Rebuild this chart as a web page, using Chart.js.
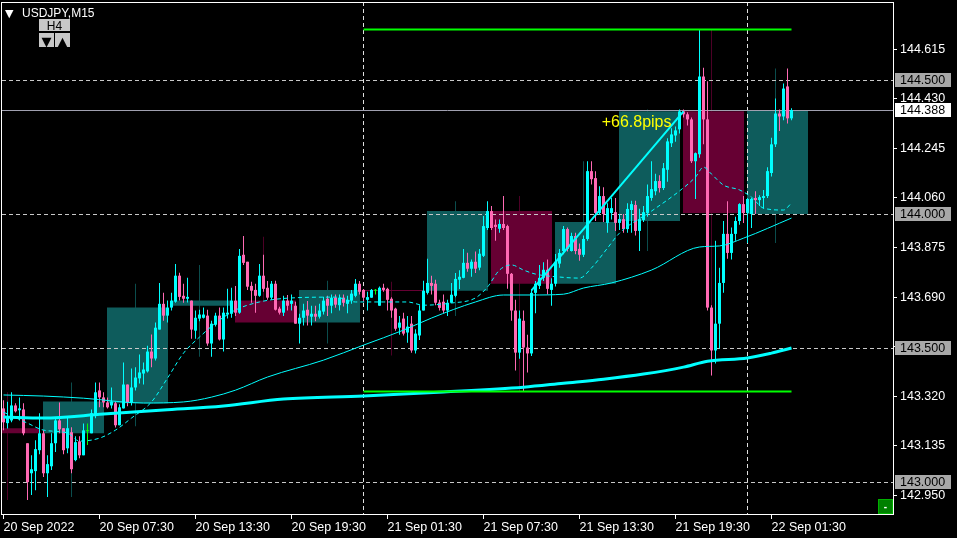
<!DOCTYPE html>
<html>
<head>
<meta charset="utf-8">
<script src="https://cdn.jsdelivr.net/npm/chart.js@4.4.1/dist/chart.umd.min.js"></script>
<style>
  html, body { margin: 0; padding: 0; background: #000; }
  #grafico { display: block; }
</style>
</head>
<body>
<canvas id="grafico" width="957" height="538"></canvas>
<script>
// Velas M15 (índice 0 = 20 Sep 01:30)
const abertura = [
  143.275,143.220,143.230,143.286,143.268,143.271,143.145,143.033,143.041,143.119,
  143.182,143.033,143.059,143.145,143.230,143.201,143.126,143.186,143.082,143.152,
  143.100,143.190,143.182,143.249,143.342,143.316,143.297,143.286,143.294,143.212,
  143.275,143.364,143.297,143.353,143.387,143.405,143.413,143.487,143.461,143.569,
  143.665,143.621,143.651,143.673,143.770,143.695,143.684,143.677,143.565,143.610,
  143.613,143.621,143.517,143.587,143.621,143.532,143.625,143.628,143.677,143.632,
  143.848,143.822,143.732,143.717,143.695,143.770,143.725,143.688,143.740,143.647,
  143.632,143.677,143.665,143.658,143.591,143.613,143.643,143.617,143.628,143.617,
  143.636,143.684,143.658,143.688,143.660,143.688,143.665,143.677,143.695,143.740,
  143.717,143.680,143.688,143.714,143.658,143.725,143.721,143.684,143.647,143.576,
  143.610,143.558,143.591,143.491,143.547,143.640,143.706,143.743,143.740,143.670,
  143.673,143.640,143.669,143.695,143.755,143.762,143.818,143.796,143.822,143.800,
  143.844,143.948,144.011,143.960,143.945,143.963,143.955,143.777,143.640,143.483,
  143.602,143.502,143.480,143.706,143.732,143.762,143.792,143.717,143.740,143.815,
  143.862,143.944,143.862,143.918,143.870,143.848,143.907,144.160,144.134,144.004,
  144.067,143.967,144.004,144.007,143.967,143.981,143.944,144.015,144.034,143.937,
  143.978,144.004,144.060,144.085,144.123,144.097,144.165,144.264,144.293,144.316,
  144.383,144.372,144.353,144.197,144.223,144.513,144.353,143.651,143.491,143.591,
  143.743,143.926,143.855,143.926,143.974,144.037,144.004,144.000,144.060,144.052,
  144.060,144.067,144.153,144.260,144.375,144.364,144.476,144.357
];
const maxima = [
  143.305,143.300,143.335,143.294,143.316,143.294,143.145,143.100,143.156,143.257,
  143.193,143.100,143.182,143.238,143.297,143.201,143.245,143.205,143.171,143.171,
  143.219,143.219,143.271,143.372,143.372,143.335,143.316,143.353,143.301,143.290,
  143.446,143.364,143.424,143.428,143.476,143.446,143.509,143.551,143.595,143.743,
  143.706,143.677,143.706,143.814,143.781,143.740,143.762,143.677,143.640,143.643,
  143.651,143.643,143.602,143.632,143.651,143.651,143.721,143.725,143.732,143.870,
  143.918,143.822,143.747,143.740,143.814,143.848,143.750,143.750,143.751,143.654,
  143.695,143.698,143.700,143.673,143.628,143.665,143.676,143.658,143.658,143.665,
  143.691,143.695,143.700,143.700,143.700,143.700,143.695,143.717,143.758,143.750,
  143.720,143.710,143.720,143.720,143.730,143.740,143.725,143.690,143.650,143.620,
  143.632,143.620,143.620,143.570,143.660,143.751,143.833,143.770,143.755,143.680,
  143.700,143.680,143.743,143.780,143.790,143.870,143.856,143.830,143.860,143.870,
  143.993,144.048,144.030,143.980,143.980,144.067,143.960,143.780,143.680,143.640,
  143.640,143.550,143.720,143.750,143.810,143.820,143.830,143.760,143.851,143.870,
  143.955,143.950,143.930,143.930,143.890,143.920,144.197,144.197,144.160,144.104,
  144.100,144.040,144.060,144.060,144.000,144.000,144.040,144.050,144.050,144.020,
  144.030,144.110,144.197,144.150,144.145,144.190,144.283,144.320,144.327,144.390,
  144.390,144.380,144.360,144.230,144.688,144.546,144.495,143.660,143.900,143.800,
  143.974,144.048,143.950,143.990,144.040,144.067,144.060,144.060,144.085,144.070,
  144.090,144.175,144.285,144.431,144.390,144.487,144.543,144.395
];
const minima = [
  143.193,143.200,143.223,143.260,143.230,143.175,142.933,142.952,142.970,143.104,
  143.019,142.944,143.045,143.112,143.182,143.104,143.108,143.033,143.078,143.089,
  143.100,143.138,143.182,143.238,143.279,143.279,143.275,143.275,143.204,143.212,
  143.275,143.283,143.286,143.342,143.368,143.364,143.409,143.428,143.454,143.569,
  143.602,143.595,143.640,143.669,143.677,143.669,143.670,143.535,143.535,143.600,
  143.610,143.509,143.468,143.580,143.528,143.487,143.610,143.613,143.620,143.628,
  143.810,143.717,143.669,143.632,143.691,143.710,143.680,143.680,143.640,143.625,
  143.620,143.640,143.640,143.591,143.517,143.584,143.584,143.584,143.600,143.610,
  143.625,143.620,143.630,143.650,143.640,143.655,143.630,143.665,143.690,143.700,
  143.673,143.640,143.688,143.700,143.658,143.710,143.640,143.613,143.565,143.550,
  143.547,143.520,143.483,143.480,143.530,143.640,143.700,143.700,143.660,143.640,
  143.630,143.620,143.669,143.690,143.720,143.760,143.785,143.766,143.780,143.790,
  143.840,143.940,143.940,143.900,143.930,143.940,143.721,143.602,143.416,143.460,
  143.340,143.409,143.470,143.630,143.720,143.750,143.700,143.658,143.730,143.800,
  143.850,143.860,143.860,143.850,143.826,143.840,143.900,144.110,143.974,143.996,
  143.970,143.930,143.980,143.937,143.940,143.930,143.930,143.930,143.920,143.862,
  143.970,143.990,144.050,144.070,144.080,144.090,144.120,144.250,144.270,144.300,
  144.360,144.330,144.190,144.056,144.210,144.260,143.640,143.398,143.442,143.498,
  143.706,143.833,143.830,143.900,143.960,143.967,143.892,143.948,144.000,144.030,
  144.020,144.060,144.140,144.250,144.310,144.350,144.338,144.350
];
const fechamento = [
  143.223,143.240,143.286,143.264,143.275,143.182,143.000,143.048,143.123,143.182,
  143.033,143.067,143.145,143.230,143.197,143.119,143.201,143.048,143.149,143.100,
  143.193,143.190,143.257,143.335,143.316,143.297,143.279,143.301,143.212,143.279,
  143.364,143.297,143.353,143.390,143.409,143.420,143.487,143.461,143.576,143.665,
  143.621,143.651,143.677,143.770,143.691,143.684,143.691,143.569,143.613,143.625,
  143.625,143.517,143.591,143.621,143.532,143.632,143.632,143.677,143.632,143.844,
  143.818,143.729,143.714,143.695,143.770,143.721,143.688,143.740,143.643,143.632,
  143.677,143.658,143.677,143.591,143.613,143.640,143.621,143.628,143.617,143.640,
  143.677,143.658,143.688,143.662,143.688,143.669,143.680,143.703,143.740,143.710,
  143.688,143.690,143.717,143.714,143.725,143.717,143.680,143.640,143.572,143.595,
  143.554,143.580,143.491,143.554,143.640,143.714,143.743,143.732,143.669,143.650,
  143.640,143.669,143.699,143.758,143.766,143.818,143.796,143.822,143.796,143.852,
  143.955,144.011,143.948,143.952,143.963,143.948,143.777,143.640,143.483,143.610,
  143.502,143.480,143.706,143.740,143.762,143.792,143.721,143.740,143.822,143.855,
  143.944,143.870,143.918,143.862,143.848,143.907,144.160,144.130,144.004,144.067,
  144.000,144.022,144.022,143.967,143.981,143.944,144.019,144.037,143.937,143.981,
  144.007,144.067,144.093,144.123,144.097,144.171,144.271,144.297,144.312,144.383,
  144.372,144.353,144.197,144.227,144.513,144.353,143.651,143.491,143.591,143.743,
  143.926,143.855,143.926,143.974,144.037,144.004,144.056,144.056,144.052,144.063,
  144.067,144.160,144.260,144.375,144.364,144.468,144.357,144.388
];

// Velas H4 sobrepostas (índice M15 da primeira vela de cada H4)
const h4Inicio = [-6, 10, 26, 42, 58, 74, 90, 106, 122, 138, 154, 170, 186];
const h4Abertura = [143.201,143.182,143.294,143.658,143.677,143.595,143.717,143.714,144.011,143.740,143.974,144.383,144.000];
const h4Fechamento = [143.182,143.301,143.651,143.677,143.595,143.717,143.713,144.011,143.740,143.970,144.383,144.004,144.388];
const h4Maxima = [143.335,143.372,143.740,143.810,143.915,143.751,143.747,144.048,144.067,144.197,144.390,144.688,144.543];
const h4Minima = [142.933,142.944,143.208,143.468,143.620,143.517,143.472,143.620,143.340,143.760,143.862,143.398,143.892];

// Médias móveis
const maLentaIdx = [0, 10, 25, 40, 55, 70, 90, 110, 130, 140, 150, 160, 170, 176, 186, 192, 197];
const maLentaVal = [143.243,143.239,143.254,143.269,143.284,143.310,143.321,143.336,143.354,143.369,143.384,143.403,143.429,143.451,143.463,143.481,143.500];
const maMediaIdx = [0, 10, 20, 35, 45, 52, 58, 66, 80, 90, 100, 107, 118, 125, 132, 140, 145, 152, 162, 174, 179, 185, 197];
const maMediaVal = [143.325,143.321,143.313,143.295,143.299,143.317,143.343,143.392,143.455,143.511,143.567,143.612,143.672,143.698,143.698,143.701,143.724,143.743,143.791,143.877,143.881,143.910,143.985];
const maRapidaIdx = [0, 6, 10, 16, 19, 24, 28, 32, 37, 41, 45, 49, 53, 58, 64, 72, 83, 88, 95, 101, 105, 112, 118, 121, 124, 127, 130, 133, 139, 144, 147, 151, 154, 162, 169, 173, 175, 177, 180, 184, 187, 190, 195, 197];
const maRapidaVal = [143.261,143.220,143.194,143.183,143.153,143.164,143.194,143.239,143.299,143.388,143.481,143.541,143.593,143.642,143.672,143.687,143.690,143.672,143.672,143.672,143.660,143.668,143.687,143.728,143.791,143.810,143.791,143.776,143.765,143.761,143.799,143.873,143.929,144.011,144.086,144.138,144.175,144.149,144.108,144.090,144.063,144.022,144.015,144.041];

// Objetos desenhados no gráfico
const niveis = [143.0, 143.5, 144.0, 144.5];
const precoBid = 144.388;
const separadores = [90, 186];
const maximaDia = 144.688;
const minimaDia = 143.338;
const faixaDia = [90, 197];
const tendenciaIdx = [132, 170];
const tendenciaVal = [143.715, 144.383];
const textoPips = '+66.8pips';

// Eixos
const xTicksIdx = [0, 24, 48, 72, 96, 120, 144, 168, 192];
const xTicksRotulos = ['20 Sep 2022', '20 Sep 07:30', '20 Sep 13:30', '20 Sep 19:30', '21 Sep 01:30', '21 Sep 07:30', '21 Sep 13:30', '21 Sep 19:30', '22 Sep 01:30'];
const yTicksVal = [142.950, 143.135, 143.320, 143.505, 143.690, 143.875, 144.060, 144.245, 144.430, 144.615];

const CIANO = '#00ffff';
const ROSA = '#ff69b4';
const VERDE = '#00ff00';
const FONTE = 'Liberation Sans';

const indices = abertura.map((_, i) => i);

function corVela(i) {
  if (fechamento[i] > abertura[i]) return CIANO;
  if (fechamento[i] < abertura[i]) return ROSA;
  return VERDE;
}

Chart.defaults.font.family = FONTE;
Chart.defaults.color = '#ffffff';

// Plugin para linhas de nível, rótulos e enfeites do terminal
const enfeites = {
  id: 'enfeites',
  afterDatasetDraw(chart, args) {
    if (chart.data.datasets[args.index].label !== 'H4 corpo') return;
    const { ctx, chartArea: a, scales: { x, y } } = chart;
    ctx.save();
    ctx.beginPath();
    ctx.rect(a.left, a.top, a.right - a.left, a.bottom - a.top);
    ctx.clip();
    ctx.lineWidth = 1;

    // linhas horizontais pontilhadas
    ctx.strokeStyle = '#c8c8c8';
    ctx.setLineDash([4, 3]);
    niveis.forEach(v => {
      const py = Math.round(y.getPixelForValue(v)) + 0.5;
      ctx.beginPath();
      ctx.moveTo(a.left, py);
      ctx.lineTo(a.right, py);
      ctx.stroke();
    });

    // separadores de dia
    ctx.strokeStyle = '#e0e0e0';
    separadores.forEach(i => {
      const px = Math.floor(x.getPixelForValue(i)) + 0.5;
      ctx.beginPath();
      ctx.moveTo(px, a.top);
      ctx.lineTo(px, a.bottom);
      ctx.stroke();
    });

    // linha do bid
    ctx.setLineDash([]);
    ctx.strokeStyle = '#a0a0b0';
    const pb = Math.round(y.getPixelForValue(precoBid)) + 0.5;
    ctx.beginPath();
    ctx.moveTo(a.left, pb);
    ctx.lineTo(a.right, pb);
    ctx.stroke();
    ctx.restore();
  },
  afterDraw(chart) {
    const { ctx, chartArea: a, scales: { x, y } } = chart;
    ctx.save();

    // moldura
    ctx.strokeStyle = '#ffffff';
    ctx.lineWidth = 1;
    ctx.strokeRect(1.5, 2.5, a.right - 1, a.bottom - 2);

    // caixas de preço no eixo
    const caixa = (v, fundo) => {
      const py = Math.round(y.getPixelForValue(v));
      ctx.fillStyle = fundo;
      ctx.fillRect(a.right + 2, py - 7, 56, 14);
      ctx.fillStyle = '#000000';
      ctx.font = '12.5px ' + FONTE;
      ctx.textAlign = 'left';
      ctx.textBaseline = 'middle';
      ctx.fillText(v.toFixed(3), a.right + 7, py + 0.5);
    };
    niveis.forEach(v => caixa(v, '#a8a8a8'));
    caixa(precoBid, '#ffffff');

    // texto da linha de tendência
    ctx.fillStyle = '#ffff00';
    ctx.font = '16px ' + FONTE;
    ctx.textAlign = 'right';
    ctx.textBaseline = 'alphabetic';
    ctx.fillText(textoPips, x.getPixelForValue(tendenciaIdx[1]) - 12, y.getPixelForValue(tendenciaVal[1]) + 16);

    // título no canto
    ctx.fillStyle = '#ffffff';
    ctx.font = '11px DejaVu Sans';
    ctx.textAlign = 'left';
    ctx.fillText('▼', 5, 17);
    ctx.font = '12px ' + FONTE;
    ctx.fillText('USDJPY,M15', 22, 17);

    // botões H4
    ctx.fillStyle = '#c8c8c8';
    ctx.fillRect(39, 19, 31, 12);
    ctx.fillRect(39, 33, 15, 14);
    ctx.fillRect(55, 33, 15, 14);
    ctx.fillStyle = '#000000';
    ctx.font = '12px ' + FONTE;
    ctx.textAlign = 'center';
    ctx.fillText('H4', 54.5, 29.5);
    ctx.font = '13px DejaVu Sans';
    ctx.fillText('▼', 46.5, 45.5);
    ctx.fillText('▲', 62.5, 45.5);

    // botão verde no canto inferior
    ctx.fillStyle = '#008000';
    ctx.fillRect(878, 499, 15, 15);
    ctx.strokeStyle = '#00b000';
    ctx.strokeRect(878.5, 499.5, 14, 14);
    ctx.fillStyle = '#ffffff';
    ctx.font = 'bold 10px ' + FONTE;
    ctx.fillText('-', 885.5, 510);
    ctx.restore();
  }
};

const ctx = document.getElementById('grafico').getContext('2d');
new Chart(ctx, {
  type: 'bar',
  data: {
    datasets: [
      {
        label: 'H4 pavio',
        data: h4Inicio.map((s, k) => ({ x: s + 7, y: [h4Minima[k], h4Maxima[k]] })),
        backgroundColor: h4Inicio.map((_, k) => h4Fechamento[k] >= h4Abertura[k] ? '#0b4d4d' : '#4d0026'),
        barThickness: 1, grouped: false, inflateAmount: 0, order: 21
      },
      {
        label: 'H4 corpo',
        data: h4Inicio.map((s, k) => ({ x: s + 7.5, y: [h4Abertura[k], h4Fechamento[k]] })),
        backgroundColor: h4Inicio.map((_, k) => h4Fechamento[k] >= h4Abertura[k] ? '#0e5c5c' : '#660033'),
        barThickness: 61, minBarLength: 1, grouped: false, inflateAmount: 0, order: 20
      },
      {
        label: 'pavio',
        data: indices.map(i => ({ x: i, y: [minima[i], maxima[i]] })),
        backgroundColor: indices.map(corVela),
        barThickness: 1, grouped: false, inflateAmount: 0, order: 10
      },
      {
        label: 'corpo',
        data: indices.map(i => ({ x: i, y: [abertura[i], fechamento[i]] })),
        backgroundColor: indices.map(corVela),
        barThickness: 3, minBarLength: 1, grouped: false, inflateAmount: 0, order: 9
      },
      {
        type: 'line', label: 'MA lenta',
        data: maLentaIdx.map((v, k) => ({ x: v, y: maLentaVal[k] })),
        borderColor: CIANO, borderWidth: 3, pointRadius: 0, cubicInterpolationMode: 'monotone', order: 5
      },
      {
        type: 'line', label: 'MA média',
        data: maMediaIdx.map((v, k) => ({ x: v, y: maMediaVal[k] })),
        borderColor: CIANO, borderWidth: 1, pointRadius: 0, cubicInterpolationMode: 'monotone', order: 4
      },
      {
        type: 'line', label: 'MA rápida',
        data: maRapidaIdx.map((v, k) => ({ x: v, y: maRapidaVal[k] })),
        borderColor: CIANO, borderWidth: 1, borderDash: [4, 3], pointRadius: 0, cubicInterpolationMode: 'monotone', order: 3
      },
      {
        type: 'line', label: 'máxima do dia',
        data: faixaDia.map(v => ({ x: v, y: maximaDia })),
        borderColor: VERDE, borderWidth: 2, pointRadius: 0, order: 2
      },
      {
        type: 'line', label: 'mínima do dia',
        data: faixaDia.map(v => ({ x: v, y: minimaDia })),
        borderColor: VERDE, borderWidth: 2, pointRadius: 0, order: 2
      },
      {
        type: 'line', label: 'tendência',
        data: tendenciaIdx.map((v, k) => ({ x: v, y: tendenciaVal[k] })),
        borderColor: CIANO, borderWidth: 2, pointRadius: 0, order: 1
      }
    ]
  },
  options: {
    responsive: false,
    devicePixelRatio: 1,
    animation: false,
    events: [],
    layout: { padding: { left: 2, top: 2, right: 0, bottom: 0 } },
    plugins: { legend: { display: false }, tooltip: { enabled: false } },
    scales: {
      x: {
        type: 'linear',
        min: -0.375,
        max: 222.375,
        offset: false,
        bounds: 'data',
        grid: { display: true, drawOnChartArea: false, drawTicks: true, tickLength: 5, color: '#ffffff', offset: false },
        border: { display: false },
        ticks: {
          autoSkip: false, maxRotation: 0, minRotation: 0, align: 'start', padding: 1,
          color: '#ffffff', font: { size: 12.5 },
          callback: v => xTicksRotulos[xTicksIdx.indexOf(v)] ?? ''
        },
        afterBuildTicks: s => { s.ticks = xTicksIdx.map(v => ({ value: v })); },
        afterFit: s => { s.height = 24; s.paddingLeft = 0; s.paddingRight = 0; }
      },
      y: {
        type: 'linear',
        position: 'right',
        min: 142.881,
        max: 144.791,
        bounds: 'data',
        grid: { display: true, drawOnChartArea: false, drawTicks: true, tickLength: 4, color: '#ffffff' },
        border: { display: false },
        ticks: {
          autoSkip: false, padding: 3, color: '#ffffff', font: { size: 12.5 },
          callback: v => v.toFixed(3)
        },
        afterBuildTicks: s => { s.ticks = yTicksVal.map(v => ({ value: v })); },
        afterFit: s => { s.width = 64; s.paddingTop = 0; s.paddingBottom = 0; }
      }
    }
  },
  plugins: [enfeites]
});
</script>
</body>
</html>
